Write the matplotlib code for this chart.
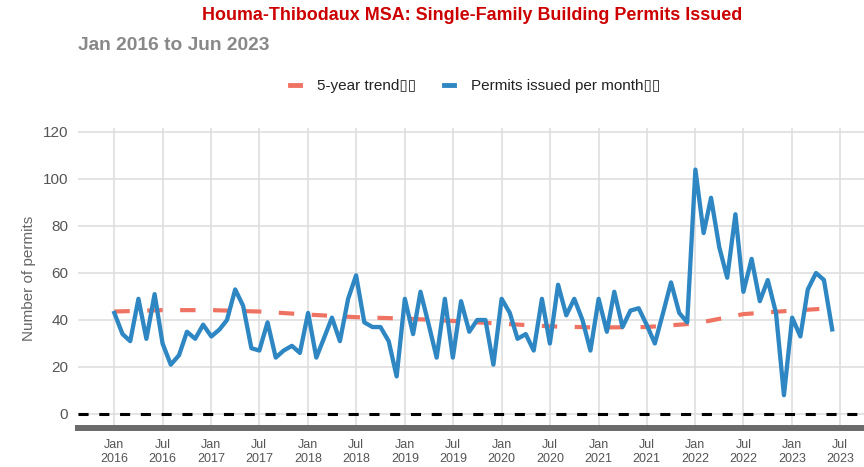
import matplotlib
matplotlib.use("Agg")
import matplotlib.pyplot as plt
import matplotlib.dates as mdates
from matplotlib.lines import Line2D
import pandas as pd

plt.rcParams['font.family'] = ['Liberation Sans', 'DejaVu Sans']

months = pd.date_range("2016-01-01", "2023-06-01", freq="MS")
permits = [
    43, 34, 31, 49, 32, 51, 30, 21, 25, 35, 32, 38,   # 2016
    33, 36, 40, 53, 46, 28, 27, 39, 24, 27, 29, 26,   # 2017
    43, 24, 32, 41, 31, 49, 59, 39, 37, 37, 31, 16,   # 2018
    49, 34, 52, 38, 24, 49, 24, 48, 35, 40, 40, 21,   # 2019
    49, 43, 32, 34, 27, 49, 30, 55, 42, 49, 40, 27,   # 2020
    49, 35, 52, 37, 44, 45, 38, 30, 43, 56, 43, 39,   # 2021
    104, 77, 92, 71, 58, 85, 52, 66, 48, 57, 43, 8,   # 2022
    41, 33, 53, 60, 57, 36,                           # 2023
]

trend_dates = pd.to_datetime([
    "2016-01-01", "2016-07-01", "2017-01-01", "2017-07-01", "2018-01-01",
    "2018-07-01", "2019-01-01", "2019-07-01", "2020-01-01", "2020-07-01",
    "2021-01-01", "2021-07-01", "2022-01-01", "2022-07-01", "2023-01-01",
    "2023-06-01"])
trend = [43.6, 44.2, 44.2, 43.6, 42.3, 41.2, 40.6, 39.6, 38.4, 37.3,
         36.8, 37.0, 38.5, 42.5, 44.0, 45.0]

tick_dates = pd.date_range("2016-01-01", "2023-07-01", freq="6MS")
tick_labels = [d.strftime("%b\n%Y") for d in tick_dates]
y_ticks = [0, 20, 40, 60, 80, 100, 120]

title = "Houma-Thibodaux MSA: Single-Family Building Permits Issued"
subtitle = "Jan 2016 to Jun 2023"
legend_labels = ["5-year trend\u25af\u25af", "Permits issued per month\u25af\u25af"]

RED = "#EF7363"
BLUE = "#2E87C3"

fig = plt.figure(figsize=(8.64, 4.67), dpi=100)
ax = fig.add_axes([78/864, 1-428/467, 1-78/864, 300/467])

ax.axhline(0, color="black", lw=2.2, ls=(0, (3.3, 3.5)), zorder=2)
ax.plot(trend_dates, trend, color=RED, lw=3.0, ls=(0, (3.7, 4.2)), zorder=3)
ax.plot(months, permits, color=BLUE, lw=3.1, zorder=4)

x0 = mdates.date2num(pd.Timestamp("2016-01-01"))
ax.set_xlim(x0 - 137, x0 + 2828)
ax.set_ylim(-5.96, 121.7)

ax.set_xticks(tick_dates)
ax.set_xticklabels(tick_labels)
ax.set_yticks(y_ticks)
ax.tick_params(axis='x', length=0, pad=8, labelsize=9, labelcolor="#555555")
ax.tick_params(axis='y', length=0, pad=7, labelsize=11, labelcolor="#555555")
ax.grid(True, color="#dddddd", lw=1.1)
ax.set_axisbelow(True)
for s in ["top", "right", "left"]:
    ax.spines[s].set_visible(False)
ax.spines["bottom"].set_color("#6b6b6b")
ax.spines["bottom"].set_linewidth(4.3)
ax.set_ylabel("Number of permits", fontsize=11, color="#666666", labelpad=5)

fig.text(472/864, 1-16/467, title, ha="center", va="center", fontsize=12.9,
         fontweight="bold", color="#CC0000")
fig.text(78/864, 1-46/467, subtitle, ha="left", va="center", fontsize=13.8,
         fontweight="bold", color="#888888")

handles = [Line2D([], [], color=RED, lw=3.5), Line2D([], [], color=BLUE, lw=3.5)]
fig.legend(handles, legend_labels, loc="center", bbox_to_anchor=(475/864, 1-86/467),
           ncol=2, frameon=False, fontsize=11, handlelength=0.7, columnspacing=1.8,
           handletextpad=1.1, labelcolor="#222222")

fig.savefig("out.png", dpi=100)
